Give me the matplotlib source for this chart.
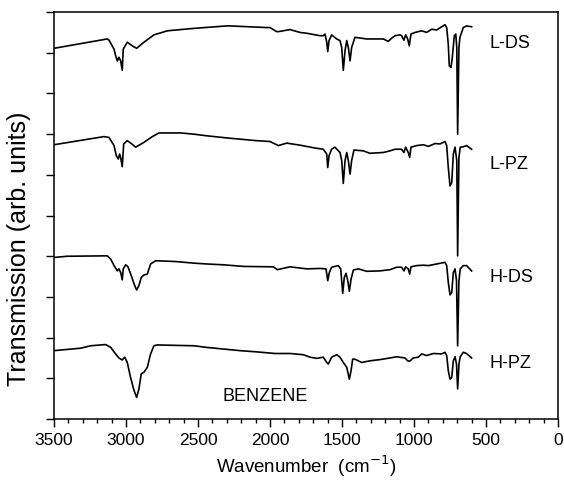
import matplotlib
matplotlib.use("Agg")
import matplotlib.pyplot as plt
from matplotlib.ticker import MultipleLocator

plt.rcParams['font.family'] = ['Liberation Sans', 'DejaVu Sans']

# ---- data (wavenumber cm^-1, offset transmission in arb. units) ----
lds_wn = [3500, 3130, 3118, 3083, 3072, 3060, 3049, 3037, 3026, 3019, 2991, 2956, 2926, 2875, 2806, 2713, 2528,
          2301, 2278, 2023, 2000, 1954, 1942, 1861, 1792, 1745, 1653, 1630, 1618, 1606, 1599, 1590, 1572, 1537,
          1514, 1502, 1491, 1479, 1467, 1456, 1444, 1433, 1410, 1329, 1213, 1179, 1155, 1132, 1097, 1086, 1070,
          1058, 1044, 1033, 1021, 993, 947, 912, 877, 843, 785, 773, 762, 755, 743, 734, 720, 710, 703, 697,
          688, 681, 658, 635, 600]
lds_y = [9.11, 9.34, 9.31, 9.09, 8.93, 8.80, 8.89, 8.80, 8.57, 9.09, 9.26, 9.17, 9.11, 9.26, 9.44, 9.54, 9.60,
         9.66, 9.66, 9.62, 9.62, 9.52, 9.52, 9.57, 9.50, 9.48, 9.42, 9.42, 9.46, 9.26, 9.03, 9.30, 9.44, 9.34,
         9.30, 9.13, 8.57, 9.05, 9.30, 9.13, 8.80, 9.13, 9.38, 9.34, 9.34, 9.28, 9.36, 9.42, 9.44, 9.42, 9.31,
         9.44, 9.34, 9.17, 9.46, 9.50, 9.54, 9.50, 9.58, 9.56, 9.69, 9.62, 9.21, 8.68, 8.64, 8.89, 9.42, 9.46,
         9.13, 7.00, 9.13, 9.38, 9.62, 9.66, 9.64]

lpz_wn = [3500, 3153, 3118, 3083, 3067, 3053, 3044, 3037, 3026, 3016, 2991, 2963, 2933, 2875, 2817, 2771, 2620,
          2528, 2440, 2278, 2092, 2000, 1942, 1884, 1792, 1688, 1630, 1606, 1599, 1590, 1572, 1549, 1514, 1502,
          1491, 1479, 1467, 1456, 1444, 1433, 1417, 1352, 1306, 1213, 1167, 1132, 1086, 1070, 1058, 1040, 1030,
          1021, 981, 935, 900, 854, 819, 785, 773, 762, 750, 738, 727, 715, 703, 697, 688, 679, 658, 635, 600]
lpz_y = [6.74, 6.94, 6.92, 6.72, 6.47, 6.39, 6.51, 6.43, 6.20, 6.76, 6.84, 6.77, 6.68, 6.80, 6.94, 7.03, 7.03,
         7.00, 6.96, 6.90, 6.84, 6.82, 6.72, 6.78, 6.73, 6.66, 6.63, 6.51, 6.18, 6.47, 6.63, 6.68, 6.55, 6.35,
         5.79, 6.35, 6.55, 6.35, 6.02, 6.35, 6.61, 6.59, 6.53, 6.55, 6.59, 6.63, 6.63, 6.55, 6.68, 6.55, 6.43,
         6.68, 6.72, 6.74, 6.70, 6.77, 6.76, 6.82, 6.72, 6.18, 5.73, 5.81, 6.51, 6.68, 6.35, 4.01, 6.43, 6.68,
         6.69, 6.72, 6.63]

hds_wn = [3500, 3408, 3130, 3106, 3083, 3060, 3049, 3037, 3026, 3019, 3002, 2986, 2963, 2944, 2926, 2910, 2894,
          2875, 2852, 2829, 2794, 2655, 2528, 2440, 2324, 2185, 1977, 1949, 1861, 1745, 1653, 1611, 1599, 1588,
          1572, 1526, 1509, 1495, 1484, 1472, 1460, 1449, 1437, 1421, 1387, 1329, 1236, 1167, 1120, 1086, 1070,
          1058, 1040, 1030, 1021, 981, 935, 900, 843, 785, 773, 762, 750, 738, 727, 715, 705, 697, 688, 679,
          658, 635, 600]
hds_y = [3.97, 4.00, 4.01, 3.93, 3.77, 3.64, 3.69, 3.60, 3.42, 3.69, 3.79, 3.74, 3.52, 3.32, 3.17, 3.28, 3.48,
         3.54, 3.56, 3.81, 3.89, 3.87, 3.83, 3.81, 3.79, 3.75, 3.74, 3.67, 3.74, 3.69, 3.70, 3.69, 3.40, 3.60,
         3.73, 3.77, 3.69, 3.09, 3.48, 3.58, 3.40, 3.14, 3.44, 3.66, 3.69, 3.63, 3.64, 3.67, 3.73, 3.73, 3.64,
         3.74, 3.69, 3.56, 3.74, 3.77, 3.78, 3.77, 3.81, 3.85, 3.77, 3.36, 3.05, 3.11, 3.60, 3.69, 3.40, 1.80,
         3.40, 3.69, 3.77, 3.77, 3.64]

hpz_wn = [3500, 3315, 3245, 3141, 3106, 3072, 3049, 3026, 3009, 2991, 2968, 2944, 2926, 2910, 2894, 2875, 2852,
          2829, 2806, 2783, 2528, 2440, 2324, 2208, 2092, 1965, 1861, 1769, 1722, 1676, 1630, 1606, 1595, 1572,
          1537, 1514, 1491, 1467, 1449, 1437, 1426, 1410, 1387, 1364, 1306, 1236, 1167, 1120, 1063, 1044, 1030,
          1005, 970, 947, 912, 866, 808, 785, 773, 762, 750, 738, 727, 715, 705, 697, 688, 679, 658, 635, 600]
hpz_y = [1.68, 1.74, 1.80, 1.83, 1.76, 1.60, 1.50, 1.45, 1.52, 1.39, 1.02, 0.70, 0.53, 0.74, 1.11, 1.15, 1.27,
         1.60, 1.80, 1.82, 1.80, 1.76, 1.72, 1.68, 1.65, 1.61, 1.61, 1.58, 1.52, 1.49, 1.52, 1.39, 1.35, 1.52,
         1.58, 1.52, 1.39, 1.27, 0.98, 1.19, 1.47, 1.47, 1.43, 1.39, 1.43, 1.46, 1.50, 1.53, 1.50, 1.43, 1.42,
         1.50, 1.52, 1.60, 1.56, 1.61, 1.60, 1.64, 1.56, 1.19, 0.98, 1.02, 1.43, 1.53, 1.35, 0.74, 1.35, 1.53,
         1.64, 1.61, 1.50]

labels = ["L-DS", "L-PZ", "H-DS", "H-PZ"]
label_y = [9.26, 6.27, 3.51, 1.38]
x_ticks = [3500, 3000, 2500, 2000, 1500, 1000, 500, 0]

fig = plt.figure(figsize=(5.64, 4.85), dpi=100)
ax = fig.add_axes([0.0957, 0.134, 0.8937, 0.839])

for wn, y in [(lds_wn, lds_y), (lpz_wn, lpz_y), (hds_wn, hds_y), (hpz_wn, hpz_y)]:
    ax.plot(wn, y, color='black', lw=1.2)

for lab, ly in zip(labels, label_y):
    ax.text(479, ly, lab, fontsize=13, va='center', ha='left')
ax.text(2035, 0.57, "BENZENE", fontsize=13, va='center', ha='center')

ax.set_xlim(3500, 0)
ax.set_ylim(0, 10)
ax.set_xticks(x_ticks)
ax.set_xticklabels([str(t) for t in x_ticks])
ax.xaxis.set_minor_locator(MultipleLocator(100))
ax.yaxis.set_major_locator(MultipleLocator(1))
ax.set_yticklabels([])
ax.tick_params(axis='both', which='major', direction='out', length=6, width=1, labelsize=12.5)
ax.tick_params(axis='x', which='minor', direction='out', length=3, width=1)
ax.tick_params(top=False, right=False)
for s in ax.spines.values():
    s.set_linewidth(1.1)

ax.set_xlabel("Wavenumber  (cm$^{-1}$)", fontsize=13.5)
ax.set_ylabel("Transmission (arb. units)", fontsize=18)
ax.yaxis.set_label_coords(-0.046, 0.42)

fig.savefig("out.png", dpi=100)
